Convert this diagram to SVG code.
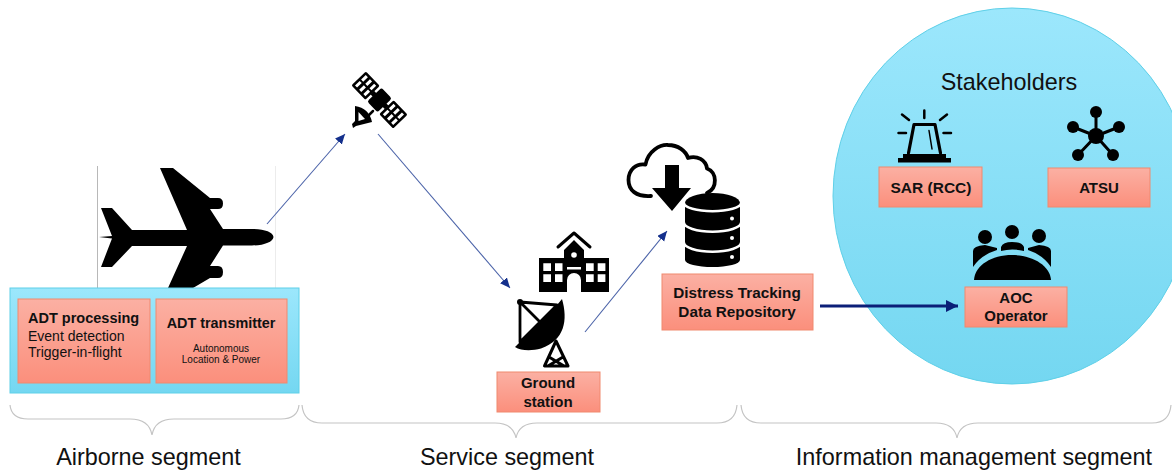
<svg xmlns="http://www.w3.org/2000/svg" width="1172" height="473" viewBox="0 0 1172 473">
<style>
text{font-family:"Liberation Sans",Arial,sans-serif;fill:#111}
.b{font-weight:bold;font-size:15px;text-anchor:middle}
.seg{font-size:23.4px;text-anchor:middle}
.box{fill:url(#red);stroke:#f0896f;stroke-width:1}
.thin{fill:none;stroke:#4a62a8;stroke-width:1.1}
.brace{fill:none;stroke:#c4c4c4;stroke-width:1.2}
.w{fill:#fff}
.k{fill:#000}
.ln{fill:none;stroke:#000;stroke-linecap:round;stroke-linejoin:round}
</style>
<defs>
<linearGradient id="red" x1="0" y1="0" x2="0" y2="1"><stop offset="0" stop-color="#fbb0a3"/><stop offset="1" stop-color="#fb8f7c"/></linearGradient>
<linearGradient id="blue" x1="0" y1="0" x2="0" y2="1"><stop offset="0" stop-color="#9ce7fc"/><stop offset="1" stop-color="#74d7f1"/></linearGradient>
<marker id="a" markerUnits="userSpaceOnUse" markerWidth="12" markerHeight="10" refX="10" refY="4.500" orient="auto"><path d="M0,0L10,4.500L0,9z" fill="#14308c"/></marker>
<marker id="A" markerUnits="userSpaceOnUse" markerWidth="14" markerHeight="14" refX="12" refY="6" orient="auto"><path d="M0,0L12,6L0,12z" fill="#0b1f78"/></marker>
</defs>

<g id="stakeholders-area">
<ellipse cx="1012" cy="196" rx="179" ry="188" fill="url(#blue)" stroke="#5fd0e8"/>
<text x="1009" y="90" style="font-size:23.4px;text-anchor:middle">Stakeholders</text>
</g>

<g id="aircraft">
<path d="M97.500,166V288" stroke="#b8b8b8" fill="none"/>
<path d="M275.500,166V288" stroke="#ececec" fill="none"/>
<path class="k" d="M160,168H173L210,198H218Q223,198 223,203.500Q223,209 218,209H210L223,229H252C264,229 273,232 273.500,237C273,242 264,245.500 252,245.500H223L210,266H218Q223,266 223,272Q223,278 218,278H210L193,288H168L187,246H132L112,267H101L112,238.500L99,237L112,236L101,208H112L132,230H187Z"/>
</g>

<g id="airborne-box">
<rect x="10" y="288" width="289" height="105" fill="url(#blue)" stroke="#5fd0e8"/>
<rect class="box" x="18" y="299" width="132" height="84"/>
<rect class="box" x="156" y="299" width="131" height="84"/>
<text x="28" y="323" style="font-weight:bold;font-size:14.500px">ADT processing</text>
<text x="28" y="341" style="font-size:14px">Event detection</text>
<text x="28" y="357" style="font-size:14px">Trigger-in-flight</text>
<text x="221" y="328" style="font-weight:bold;font-size:14.400px;text-anchor:middle">ADT transmitter</text>
<text x="221" y="352" style="font-size:10px;text-anchor:middle">Autonomous</text>
<text x="221" y="363" style="font-size:10px;text-anchor:middle">Location &amp; Power</text>
</g>

<g id="satellite">
<g transform="rotate(46 379.500 100)">
<rect class="k" x="349.500" y="90" width="20" height="20" rx="1.500"/>
<rect class="k" x="389.500" y="90" width="20" height="20" rx="1.500"/>
<rect class="k" x="372" y="90" width="15" height="20" rx="2.500"/>
<rect class="k" x="369" y="97.500" width="21" height="5"/>
<path class="w" id="sl" d="M352,92.500h3v6.500h-3zM352,101h3v6.500h-3zM358,92.500h3v6.500h-3zM358,101h3v6.500h-3zM364,92.500h3v6.500h-3zM364,101h3v6.500h-3zM392,92.500h3v6.500h-3zM392,101h3v6.500h-3zM398,92.500h3v6.500h-3zM398,101h3v6.500h-3zM404,92.500h3v6.500h-3zM404,101h3v6.500h-3z"/>
</g>
<path class="ln" stroke-width="2.500" d="M367,117L373,111"/>
<path class="k" d="M355,106Q369,108 372,122L356,126L353,128L352,124L355,121Z"/>
<path class="w" d="M358.500,112L365,119L358.500,121Z"/>
</g>

<g id="ground-station">
<path class="k" d="M539,258H564V250L574,240L584,250V258H609V292H539Z"/>
<path class="ln" stroke-width="3" d="M558,247L574,233L590,247"/>
<circle class="w" cx="574" cy="255" r="2.800"/>
<path class="w" d="M543.300,263.300h7.700v7.700h-7.700zM555,263.300h7.500v7.700h-7.500zM586,263.300h7.700v7.700h-7.700zM597.700,263.300h7.700v7.700h-7.700zM543.300,274.300h7.700v7.700h-7.700zM555,274.300h7.500v7.700h-7.500zM586,274.300h7.700v7.700h-7.700zM597.700,274.300h7.700v7.700h-7.700zM567,267h14v2.500h-14z"/>
<path class="w" d="M567,292V280A7,7 0 0 1 581,280V292Z"/>
<path class="k" d="M562,299C568,320 565,340 541,348.500C532,351 521,351 515,347L520,342L557,305Z"/>
<path class="ln" stroke-width="2.800" d="M520,302L557,305L520,342ZM520,302L540,322"/>
<circle class="k" cx="520" cy="302" r="3"/>
<path class="ln" stroke-width="3" d="M544.500,366H568L556,341ZM549,357L564,366M563,357L548,366"/>
<rect class="box" x="497" y="372" width="103" height="40"/>
<text class="b" x="548" y="388">Ground</text>
<text class="b" x="548" y="407">station</text>
</g>

<g id="data-repository">
<path class="ln" stroke-width="3.800" d="M651,196C636,197 628.500,190 628.500,180C628.500,170 636,163 645.500,164.500C648,151 660,144.500 668,145C678,145 686,151 688,158C697,155 706,160 707,168.500C717,172 718,188 707,193"/>
<path class="k" d="M665,165H679V188H691L672,211L652,188H665Z"/>
<path class="k" d="M685,203A27.500,10 0 0 1 740,203V260A27.500,7 0 0 1 685,260Z"/>
<path fill="none" stroke="#fff" stroke-width="2.500" d="M684,203A28,8 0 0 0 741,203M684,222.500A28,9 0 0 0 741,222.500M684,242.500A28,9 0 0 0 741,242.500"/>
<circle class="w" cx="732" cy="218.500" r="2"/><circle class="w" cx="732" cy="238" r="2"/><circle class="w" cx="732" cy="257" r="2"/>
<rect class="box" x="662" y="274" width="151" height="56"/>
<text x="737" y="298" style="font-weight:bold;font-size:15.300px;text-anchor:middle">Distress Tracking</text>
<text x="737" y="317" style="font-weight:bold;font-size:15.300px;text-anchor:middle">Data Repository</text>
</g>

<g id="sar">
<path class="ln" stroke-width="2.500" d="M924.300,110.500V118M902,114.500L909,120M947,114.500L940,120M898.500,133H906M943.500,133H951"/>
<path class="ln" stroke-width="3.200" d="M908.500,153L914,124.500H935L940.500,153"/>
<path class="ln" stroke-width="1.500" d="M929,130.500L932,149"/>
<path class="k" d="M903,154H946V158H951V162.500H898V158H903Z"/>
<rect class="box" x="879" y="167" width="103" height="40"/>
<text x="931" y="193" style="font-weight:bold;font-size:15.500px;text-anchor:middle">SAR (RCC)</text>
</g>

<g id="atsu">
<path class="ln" stroke-width="3" d="M1096,112L1096,136L1073,127M1096,136L1119,127M1096,136L1078,155M1096,136L1113,155"/>
<circle class="k" cx="1096" cy="136" r="8"/>
<circle class="k" cx="1096" cy="112" r="6"/><circle class="k" cx="1073" cy="127" r="6"/><circle class="k" cx="1119" cy="127" r="6"/><circle class="k" cx="1078" cy="155" r="6"/><circle class="k" cx="1113" cy="155" r="6"/>
<rect class="box" x="1048" y="168" width="102" height="39"/>
<text class="b" x="1099" y="193">ATSU</text>
</g>

<g id="aoc-operator">
<circle class="k" cx="985" cy="237" r="7"/><circle class="k" cx="1012" cy="232" r="7"/><circle class="k" cx="1039" cy="236" r="7"/>
<path class="k" d="M973,267V251Q973,246 985,245L997,248V250Q981,255 973,267Z"/>
<path class="k" d="M1001,251V247Q1003,242 1012,242Q1022,242 1024,247V251Q1012,248 1001,251Z"/>
<path class="k" d="M1051,267V251Q1051,246 1039,245L1028,248V250Q1043,255 1051,267Z"/>
<path class="k" d="M974,280C975,265 992,255 1012,255C1032,255 1050,265 1051,280Z"/>
<rect class="box" x="965" y="287" width="102" height="40"/>
<text class="b" x="1016" y="303">AOC</text>
<text class="b" x="1016" y="321">Operator</text>
</g>

<g id="connectors">
<path class="thin" marker-end="url(#a)" d="M267,224L345,134"/>
<path class="thin" marker-end="url(#a)" d="M378,134L510,288"/>
<path class="thin" marker-end="url(#a)" d="M585,332L667,231"/>
<path fill="none" stroke="#0b1f78" stroke-width="3" marker-end="url(#A)" d="M820,306H958"/>
</g>

<g id="segments">
<path class="brace" d="M10,405C11,415 18,419 28,419H130C142,419 150,424 152,435C154,424 162,419 174,419H281C291,419 298,415 299,405"/>
<path class="brace" d="M302,405C303,417 310,423 322,423H495C507,423 514,428 516,438C518,428 525,423 537,423H717C729,423 736,417 737,405"/>
<path class="brace" d="M741,405C742,417 749,423 761,423H936C948,423 955,428 957,438C959,428 966,423 978,423H1152C1164,423 1170,417 1171,405"/>
<text class="seg" x="148.500" y="465">Airborne segment</text>
<text class="seg" x="507" y="465">Service segment</text>
<text class="seg" x="974" y="465">Information management segment</text>
</g>
</svg>
